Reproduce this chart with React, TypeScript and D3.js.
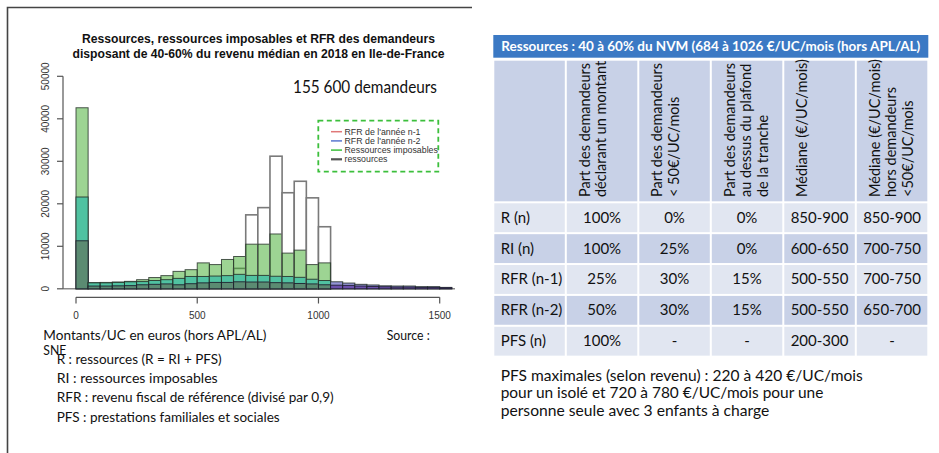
import React from "react";
import * as d3 from "d3";

// ---------- Data ----------
const binStarts = [0, 50, 100, 150, 200, 250, 300, 350, 400, 450, 500, 550, 600, 650, 700, 750, 800, 850, 900, 950, 1000, 1050, 1100, 1150, 1200, 1250, 1300, 1350, 1400, 1450, 1500];
const binWidth = 50;
const ressources = [0, 0, 0, 0, 0, 0, 0, 0, 0, 0, 0, 0, 0, 4800, 17400, 19100, 31200, 22600, 25300, 21400, 14600, 0, 0, 0, 0, 0, 0, 0, 0, 0, 0];
const ressourcesImposables = [42600, 1450, 1500, 1600, 1750, 2150, 2650, 3100, 4100, 4500, 6100, 5700, 6900, 7600, 10500, 10500, 12900, 8400, 9100, 5700, 6100, 0, 0, 0, 0, 0, 0, 0, 0, 0, 0];
const rfrN2 = [21600, 1400, 1400, 1500, 1650, 1700, 1950, 2150, 2450, 2900, 2900, 3000, 3100, 3400, 3150, 3150, 2950, 2900, 2700, 2250, 1950, 1650, 1350, 1050, 900, 700, 650, 650, 500, 500, 330];
const rfrN1 = [11300, 650, 650, 700, 750, 950, 1050, 1150, 950, 1200, 1400, 1500, 1500, 1650, 1600, 1600, 1450, 1400, 1250, 1150, 950, 850, 800, 650, 550, 480, 400, 400, 330, 330, 250];

const xTicks = [0, 500, 1000, 1500];
const yTicks = [0, 10000, 20000, 30000, 40000, 50000];

const titleLines = [
  "Ressources, ressources imposables et RFR des demandeurs",
  "disposant de 40-60% du revenu médian en 2018 en Ile-de-France",
];
const countLabel = "155 600 demandeurs";
const legendItems = [
  { label: "RFR de l'année n-1", color: "#e07878", w: 1.5 },
  { label: "RFR de l'année n-2", color: "#5a78d0", w: 1.5 },
  { label: "Ressources imposables", color: "#3cc03c", w: 1.5 },
  { label: "ressources", color: "#555555", w: 2.2 },
];

const tableTitle = "Ressources : 40 à 60% du NVM (684 à 1026 €/UC/mois (hors APL/AL)";
const tableHeaders = [
  [],
  ["Part des demandeurs", "déclarant un montant"],
  ["Part des demandeurs", "< 50€/UC/mois"],
  ["Part des demandeurs", "au dessus du plafond", "de la tranche"],
  ["Médiane (€/UC/mois)"],
  ["Médiane (€/UC/mois)", "hors demandeurs", "<50€/UC/mois"],
];
const tableRows = [
  ["R (n)", "100%", "0%", "0%", "850-900", "850-900"],
  ["RI (n)", "100%", "25%", "0%", "600-650", "700-750"],
  ["RFR (n-1)", "25%", "30%", "15%", "500-550", "700-750"],
  ["RFR (n-2)", "50%", "30%", "15%", "500-550", "650-700"],
  ["PFS (n)", "100%", "-", "-", "200-300", "-"],
];

const leftNotes = [
  "R : ressources (R = RI + PFS)",
  "RI : ressources imposables",
  "RFR : revenu fiscal de référence (divisé par 0,9)",
  "PFS : prestations familiales et sociales",
];
const rightNotes = [
  "PFS maximales (selon revenu) : 220 à 420 €/UC/mois",
  "pour un isolé et 720 à 780 €/UC/mois pour une",
  "personne seule avec 3 enfants à charge",
];

// ---------- Styles ----------
const ARIAL = "'Liberation Sans', Arial, sans-serif";
const CAL = "Lato, 'Open Sans', sans-serif";
const C = {
  green: "rgba(60,170,40,0.5)",
  teal: "#50c2a1",
  darkGreen: "#5b8b72",
  lightPurple: "#9494d6",
  darkPurple: "#6c50ad",
  barStroke: "#253028",
  rStroke: "#7a7a7a",
};

export default function App() {
  const x = d3.scaleLinear().domain([0, 1500]).range([76, 439.7]);
  const y = d3.scaleLinear().domain([0, 50000]).range([288.8, 76.3]);

  const bars: React.ReactNode[] = [];
  binStarts.forEach((b, i) => {
    const x0 = x(b);
    const w = x(b + binWidth) - x0;
    const seg = (lo: number, hi: number, fill: string, key: string) =>
      hi > lo ? <rect key={key} x={x0} y={y(hi)} width={w} height={y(lo) - y(hi)} fill={fill} /> : null;
    const outline = (v: number, stroke: string, sw: number, key: string) =>
      v > 0 ? <rect key={key} x={x0} y={y(v)} width={w} height={y(0) - y(v)} fill="none" stroke={stroke} strokeWidth={sw} strokeOpacity={0.85} /> : null;
    const R = ressources[i], RI = ressourcesImposables[i], n2 = rfrN2[i], n1 = rfrN1[i];
    if (R > 0) bars.push(<rect key={`r${i}`} x={x0} y={y(R)} width={w} height={y(0) - y(R)} fill="#ffffff" stroke={C.rStroke} strokeWidth={1.6} />);
    if (RI > 0) bars.push(<rect key={`ri${i}`} x={x0} y={y(RI)} width={w} height={y(0) - y(RI)} fill={C.green} stroke={C.barStroke} strokeWidth={1} strokeOpacity={0.8} />);
    bars.push(seg(0, Math.min(n2, RI), C.teal, `n2a${i}`));
    bars.push(seg(RI, n2, C.lightPurple, `n2b${i}`));
    bars.push(outline(n2, C.barStroke, 1, `n2o${i}`));
    bars.push(seg(0, Math.min(n1, RI), C.darkGreen, `n1a${i}`));
    bars.push(seg(RI, n1, C.darkPurple, `n1b${i}`));
    bars.push(outline(n1, "#1a1a2a", 1, `n1o${i}`));
  });

  // table geometry
  const tx0 = 493.3, colW = 72.5, hdrTop = 60.7, hdrBot = 202.3, rowH = 30.87;
  const dark = "#c8d1e7", light = "#e1e6f1";

  return (
    <svg width={939} height={453} style={{ position: "absolute", left: 0, top: 0, background: "#fff" }}>
      <rect x={0} y={0} width={939} height={453} fill="#ffffff" />
      {/* frame */}
      <path d="M7.5,453 L7.5,7.5 L472,7.5" fill="none" stroke="#444" strokeWidth={1.6} />

      {/* title */}
      {titleLines.map((t, i) => (
        <text key={t} x={258.5} y={38.3 + i * 15} dy="0.35em" textAnchor="middle" fontFamily={ARIAL} fontWeight="bold" fontSize={12} fill="#111" textLength={i === 0 ? 353 : 372} lengthAdjust="spacingAndGlyphs">{t}</text>
      ))}
      <text x={365} y={87} dy="0.35em" textAnchor="middle" fontFamily={CAL} fontSize={17} fill="#111" textLength={144} lengthAdjust="spacingAndGlyphs">{countLabel}</text>

      {/* baseline */}
      <line x1={63} x2={455} y1={y(0)} y2={y(0)} stroke="#8a8a8a" strokeWidth={1.6} />
      {bars}

      {/* y axis */}
      <line x1={63} x2={63} y1={y(0)} y2={y(50000)} stroke="#555" strokeWidth={1.2} />
      {yTicks.map((t) => (
        <g key={t} transform={`translate(0,${y(t)})`}>
          <line x1={57} x2={63} stroke="#555" strokeWidth={1.2} />
          <text transform="translate(45,0) rotate(-90)" dy="0.35em" textAnchor="middle" fontFamily={ARIAL} fontSize={10} fill="#333">{t}</text>
        </g>
      ))}
      {/* x axis */}
      <line x1={x(0)} x2={x(1500)} y1={297.3} y2={297.3} stroke="#555" strokeWidth={1.2} />
      {xTicks.map((t) => (
        <g key={t} transform={`translate(${x(t)},0)`}>
          <line y1={297.3} y2={303.5} stroke="#555" strokeWidth={1.2} />
          <text y={315.7} dy="0.35em" textAnchor="middle" fontFamily={ARIAL} fontSize={10} fill="#333">{t}</text>
        </g>
      ))}

      {/* legend */}
      <rect x={318.3} y={120.7} width={120} height={51} fill="#fff" stroke="#3cbf3c" strokeWidth={1.8} strokeDasharray="5,3.5" />
      {legendItems.map((it, i) => (
        <g key={it.label} transform={`translate(0,${131.7 + i * 9.2})`}>
          <line x1={331} x2={342} stroke={it.color} strokeWidth={it.w} />
          <text x={344.5} dy="0.35em" fontFamily={ARIAL} fontSize={8.8} fill="#333">{it.label}</text>
        </g>
      ))}

      {/* left notes */}
      <text x={43.3} y={335} dy="0.35em" fontFamily={CAL} fontSize={14} fill="#111" textLength={223} lengthAdjust="spacingAndGlyphs">Montants/UC en euros (hors APL/AL)</text>
      <text x={386.7} y={335} dy="0.35em" fontFamily={CAL} fontSize={14} fill="#111" textLength={43} lengthAdjust="spacingAndGlyphs">Source :</text>
      <text x={43.3} y={350} dy="0.35em" fontFamily={CAL} fontSize={14} fill="#111" textLength={23} lengthAdjust="spacingAndGlyphs">SNE</text>
      {leftNotes.map((t, i) => (
        <text key={t} x={56.7} y={359 + i * 19.2} dy="0.35em" fontFamily={CAL} fontSize={14} fill="#111" textLength={[165, 161, 277, 223][i]} lengthAdjust="spacingAndGlyphs">{t}</text>
      ))}

      {/* table title bar */}
      <rect x={tx0} y={35} width={colW * 6} height={22.7} fill="#3b79c4" />
      <text x={tx0 + colW * 3} y={46.3} dy="0.35em" textAnchor="middle" fontFamily={CAL} fontWeight="bold" fontSize={14} fill="#fff" textLength={419} lengthAdjust="spacingAndGlyphs">{tableTitle}</text>

      {/* table header row */}
      {tableHeaders.map((lines, c) => {
        const cx = tx0 + c * colW;
        return (
          <g key={`h${c}`}>
            <rect x={cx + 1} y={hdrTop} width={colW - 2} height={hdrBot - hdrTop - 1} fill={dark} />
            {lines.map((ln, j) => (
              <text key={ln + j} transform={`translate(${cx + 18.8 + j * 16.7},197) rotate(-90)`} dy="0.35em" fontFamily={CAL} fontSize={14.5} fill="#111">{ln}</text>
            ))}
          </g>
        );
      })}

      {/* table body */}
      {tableRows.map((row, r) => {
        const ry = hdrBot + r * rowH;
        return (
          <g key={`r${r}`}>
            {row.map((cell, c) => {
              const cx = tx0 + c * colW;
              return (
                <g key={`c${c}`}>
                  <rect x={cx + 1} y={ry + 1} width={colW - 2} height={rowH - 2} fill={r % 2 === 0 ? light : dark} />
                  <text x={c === 0 ? 500.7 : cx + colW / 2} y={ry + 15.2} dy="0.35em" textAnchor={c === 0 ? "start" : "middle"} fontFamily={CAL} fontSize={15} fill="#111">{cell}</text>
                </g>
              );
            })}
          </g>
        );
      })}

      {/* right notes */}
      {rightNotes.map((t, i) => (
        <text key={t} x={500.7} y={375 + i * 17.5} dy="0.35em" fontFamily={CAL} fontSize={16} fill="#111" textLength={[362, 322.6, 268.6][i]} lengthAdjust="spacingAndGlyphs">{t}</text>
      ))}
    </svg>
  );
}
